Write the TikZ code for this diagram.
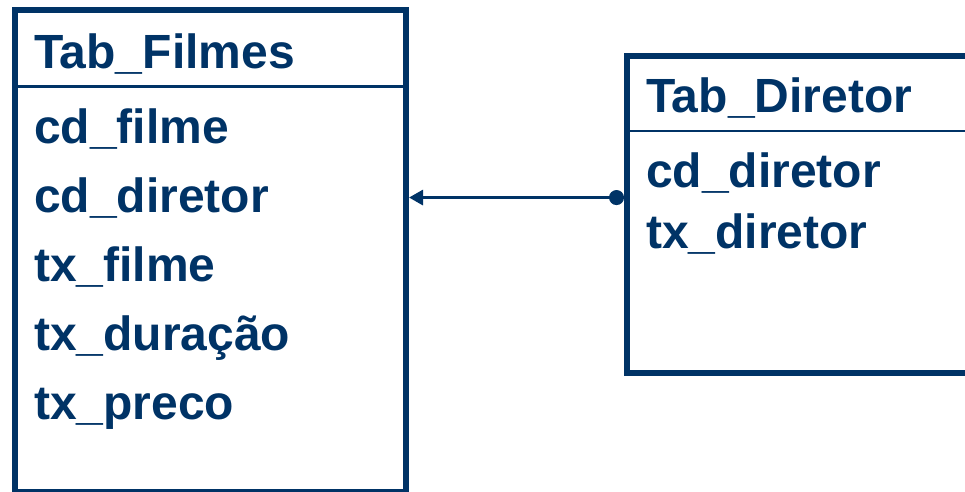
\documentclass[tikz,border=0pt]{standalone}
\usepackage{fontspec}
\setmainfont{Liberation Sans}
\usetikzlibrary{arrows.meta}
\definecolor{tabblue}{RGB}{0,51,102}
\tikzset{
  tabbox/.style={draw=tabblue, line width=6pt, inner sep=0pt},
  header/.style={draw=tabblue, line width=2.5pt},
  field/.style={anchor=base west, inner sep=0pt, text=tabblue,
    font=\fontsize{48}{58}\selectfont\bfseries},
  fk/.style={draw=tabblue, line width=3pt,
    {Circle[length=15pt]}-{Triangle[length=14pt,width=15pt]}}
}
\begin{document}
\begin{tikzpicture}[x=1pt,y=-1pt]
  \useasboundingbox (0,0) rectangle (965,491);
  \clip (0,0) rectangle (965,491);

  % tables
  \node[tabbox, minimum width=391pt, minimum height=482pt] (filmes) at (210.5,251) {};
  \node[tabbox, minimum width=348pt, minimum height=317.5pt] (diretor) at (801,214.25) {};
  \draw[header] (filmes.west |- 0,86.5) -- (filmes.east |- 0,86.5);
  \draw[header] (diretor.west |- 0,131) -- (diretor.east |- 0,131);

  % Tab_Filmes
  \node[field] (fTitle) at (34,68) {Tab\_Filmes};
  \node[field] (fFilme) at (34,143) {cd\_filme};
  \node[field] (fDiretor) at (34,212) {cd\_diretor};
  \node[field] (fTxFilme) at (34,281) {tx\_filme};
  \node[field] (fDuracao) at (34,350) {tx\_duração};
  \node[field] (fPreco) at (34,419) {tx\_preco};

  % Tab_Diretor
  \node[field] (dTitle) at (646,112) {Tab\_Diretor};
  \node[field] (dDiretor) at (646,187) {cd\_diretor};
  \node[field] (dTxDiretor) at (646,248) {tx\_diretor};

  % chave estrangeira
  \draw[fk] (diretor.west |- fDiretor) -- (filmes.east |- fDiretor);
\end{tikzpicture}
\end{document}
